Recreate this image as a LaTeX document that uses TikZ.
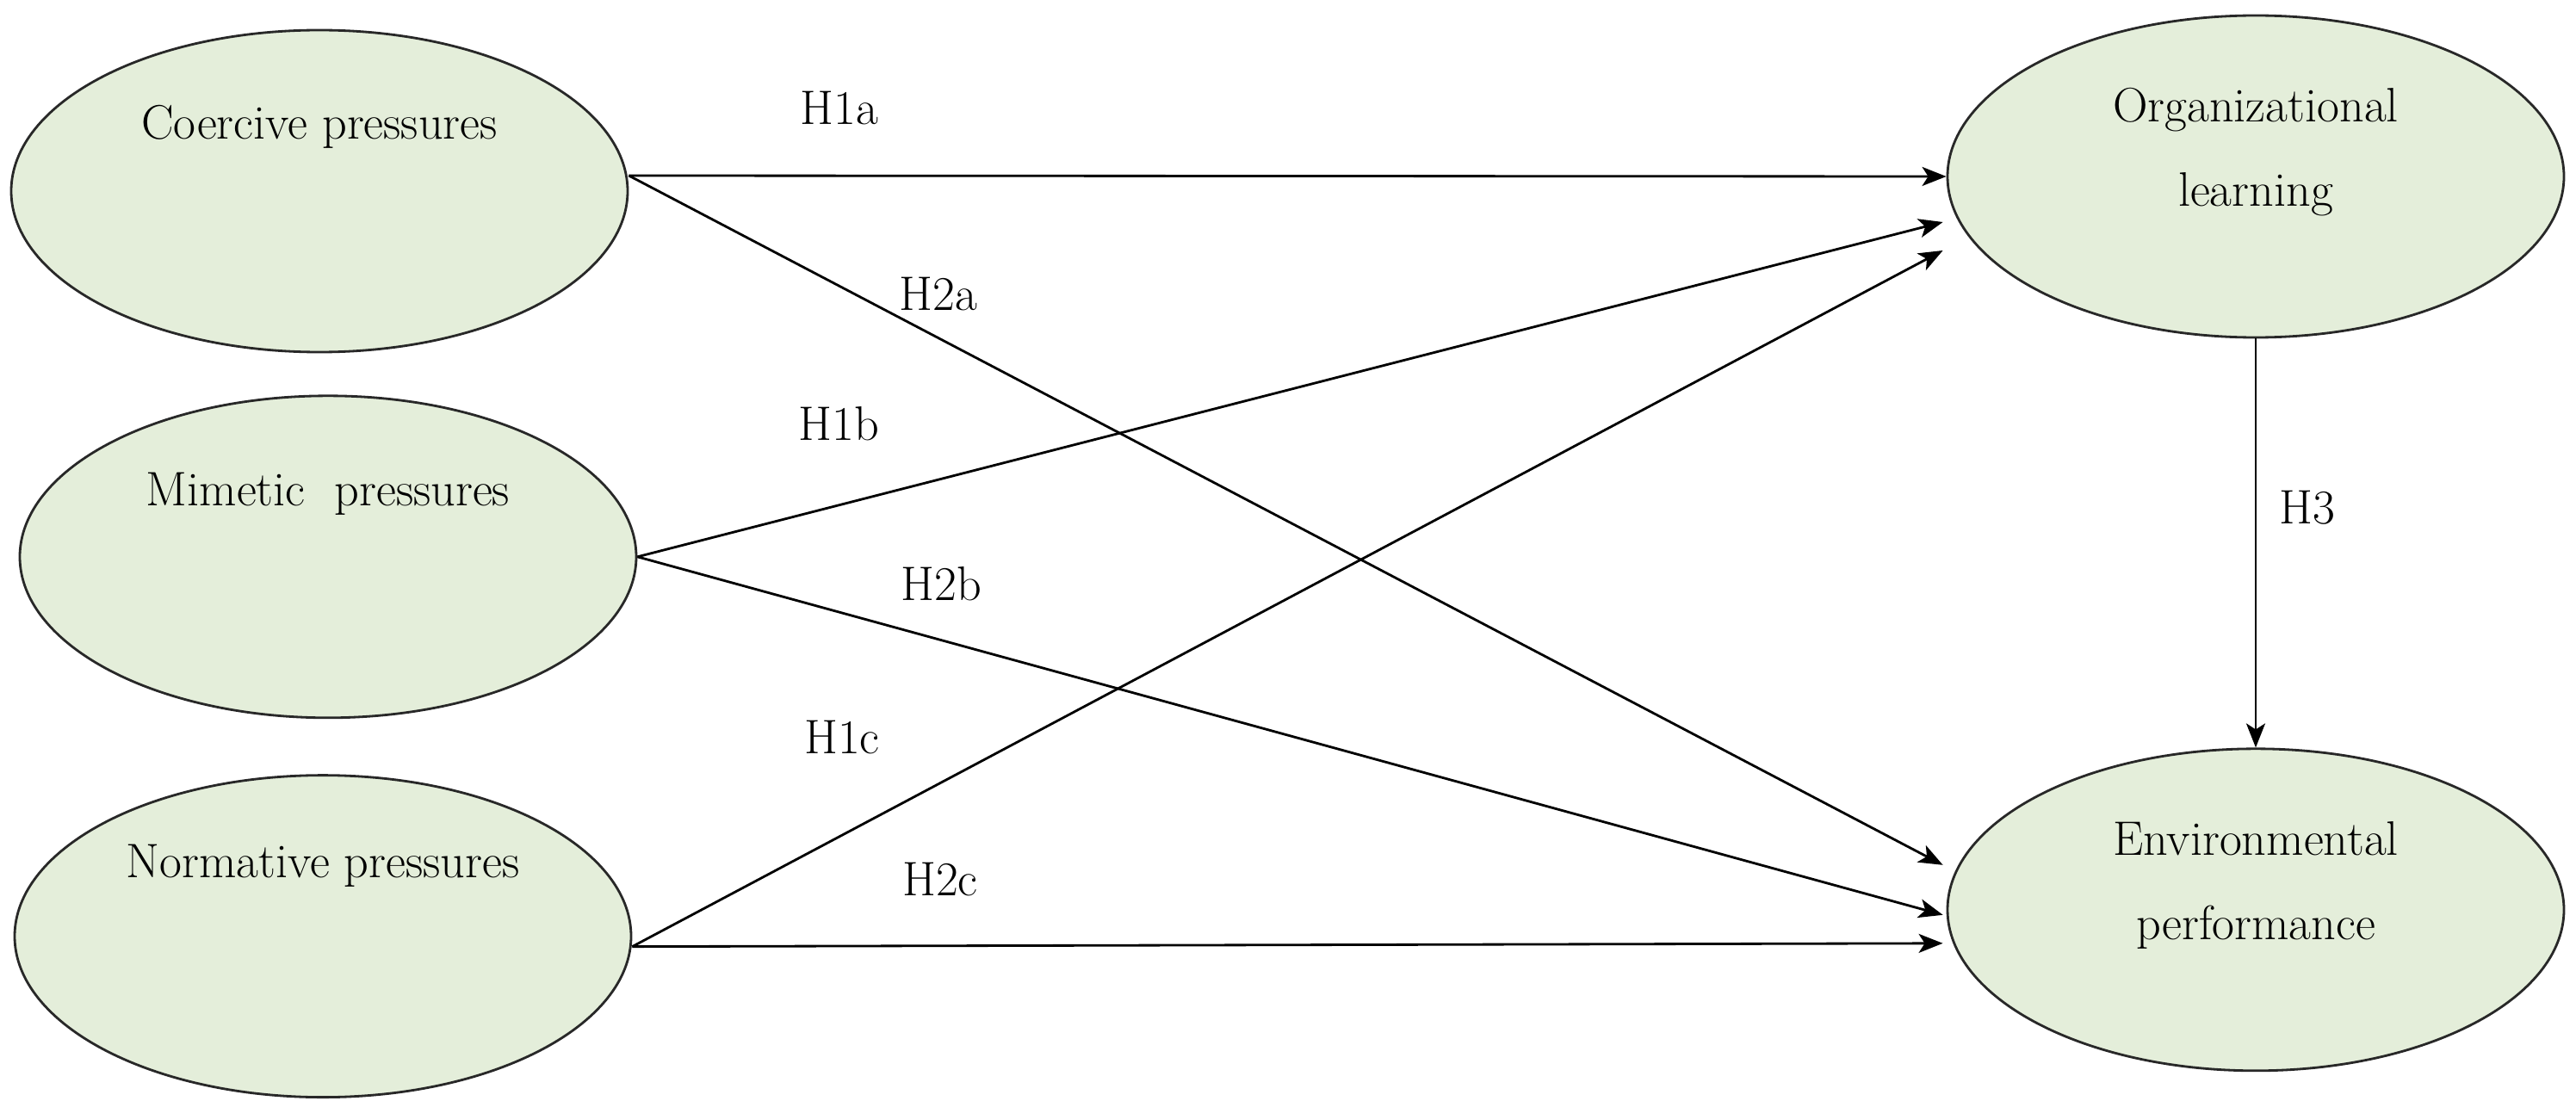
\documentclass[tikz,border=0pt]{standalone}
\usepackage{tikz}
\usepackage{xcolor}
\usetikzlibrary{arrows.meta, positioning, shapes.geometric}
\definecolor{lGreen}  {RGB}{228,238,218}
\definecolor{dkGray}  {RGB}{40,40,40}

\begin{document}
\begin{tikzpicture}[font=\fontsize{16}{28}\selectfont,
    ELL/.style={ellipse, draw=dkGray, line width=0.8pt, fill=lGreen, minimum width=7.16cm, minimum height=3.74cm, text height=0.3cm},
    ARR/.style={-{Stealth[length=0.28cm, width=0.22cm, inset=0.07cm]}, line width=0.8pt, black}]
    \useasboundingbox (0,0) rectangle (29.92,-12.79);
    % pressures (left column)
    \node[ELL, text depth=1.5cm] (coer) at (3.71,-2.22) {Coercive pressures};
    \node[ELL, text depth=1.48cm, below=0.48cm of coer, xshift=0.1cm] (mim) {Mimetic\ \ pressures};
    \node[ELL, text depth=1.66cm, below=0.64cm of mim, xshift=-0.06cm] (norm) {Normative pressures};
    % outcomes (right column)
    \node[ELL, align=center, text height=1.3cm, text depth=0.6cm] (org) at (26.20,-2.05) {Organizational\\learning};
    \node[ELL, align=center, text height=1.3cm, text depth=0.6cm, below=4.75cm of org] (env) {Environmental\\performance};
    \draw[ARR] ([yshift=0.18cm]coer.east) -- (org.west);
    \draw[ARR] ([yshift=0.18cm]coer.east) -- ([xshift=-0.04cm, yshift=0.52cm]env.west);
    \draw[ARR] (mim.east) -- ([xshift=-0.04cm, yshift=-0.53cm]org.west);
    \draw[ARR] (mim.east) -- ([xshift=-0.04cm, yshift=-0.06cm]env.west);
    \draw[ARR] ([yshift=-0.12cm]norm.east) -- ([xshift=-0.04cm, yshift=-0.86cm]org.west);
    \draw[ARR] ([yshift=-0.12cm]norm.east) -- ([xshift=-0.04cm, yshift=-0.39cm]env.west);
    \draw[ARR] (org) -- (env);
    % hypothesis labels
    \node (h1a) at (9.75,-1.26) {H1a};
    \node (h2a) at (10.90,-3.42) {H2a};
    \node (h1b) at (9.74,-4.92) {H1b};
    \node (h2b) at (10.93,-6.78) {H2b};
    \node (h1c) at (9.78,-8.57) {H1c};
    \node (h2c) at (10.92,-10.22) {H2c};
    \node (h3) at (26.80,-5.90) {H3};
\end{tikzpicture}
\end{document}
